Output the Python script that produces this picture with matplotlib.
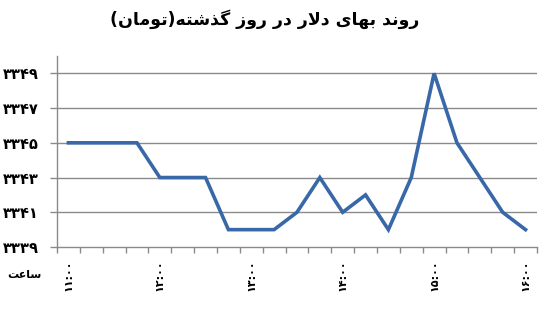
import matplotlib
matplotlib.use("Agg")
import matplotlib.pyplot as plt
from matplotlib.ticker import FixedLocator

# --- data -------------------------------------------------------------
# price every 15 minutes, 11:00 .. 16:00
prices = [3345, 3345, 3345, 3345, 3343, 3343, 3343, 3340, 3340, 3340, 3341,
          3343, 3341, 3342, 3340, 3343, 3349, 3345, 3343, 3341, 3340]
hour_labels = ['۱۱:۰۰', '۱۲:۰۰', '۱۳:۰۰', '۱۴:۰۰', '۱۵:۰۰', '۱۶:۰۰']
y_ticks = [3339, 3341, 3343, 3345, 3347, 3349]
y_labels = ['۳۳۳۹', '۳۳۴۱', '۳۳۴۳', '۳۳۴۵', '۳۳۴۷', '۳۳۴۹']
title = 'روند بهای دلار در روز گذشته(تومان)'
x_name = 'ساعت'

# --- minimal arabic/persian shaping (matplotlib has no bidi/shaping) ----
# isolated, final, initial, medial
FORMS = {
    'ا': ('\uFE8D', '\uFE8E', None, None),
    'ب': ('\uFE8F', '\uFE90', '\uFE91', '\uFE92'),
    'ت': ('\uFE95', '\uFE96', '\uFE97', '\uFE98'),
    'د': ('\uFEA9', '\uFEAA', None, None),
    'ذ': ('\uFEAB', '\uFEAC', None, None),
    'ر': ('\uFEAD', '\uFEAE', None, None),
    'ز': ('\uFEAF', '\uFEB0', None, None),
    'س': ('\uFEB1', '\uFEB2', '\uFEB3', '\uFEB4'),
    'ش': ('\uFEB5', '\uFEB6', '\uFEB7', '\uFEB8'),
    'ع': ('\uFEC9', '\uFECA', '\uFECB', '\uFECC'),
    'ل': ('\uFEDD', '\uFEDE', '\uFEDF', '\uFEE0'),
    'م': ('\uFEE1', '\uFEE2', '\uFEE3', '\uFEE4'),
    'ن': ('\uFEE5', '\uFEE6', '\uFEE7', '\uFEE8'),
    'ه': ('\uFEE9', '\uFEEA', '\uFEEB', '\uFEEC'),
    'و': ('\uFEED', '\uFEEE', None, None),
    'ی': ('\uFBFC', '\uFBFD', '\uFBFE', '\uFBFF'),
    'گ': ('\uFB92', '\uFB93', '\uFB94', '\uFB95'),
    'LA': ('\uFEFB', '\uFEFC', None, None),
}


def shape(text):
    chars = []
    i = 0
    while i < len(text):
        if text[i] == 'ل' and i + 1 < len(text) and text[i + 1] == 'ا':
            chars.append('LA')
            i += 2
        else:
            chars.append(text[i])
            i += 1
    out = []
    for i, c in enumerate(chars):
        if c not in FORMS:
            out.append(c)
            continue
        prev = chars[i - 1] if i > 0 else None
        nxt = chars[i + 1] if i + 1 < len(chars) else None
        join_prev = prev in FORMS and FORMS[prev][2] is not None
        join_next = nxt in FORMS and FORMS[c][2] is not None
        iso, fin, ini, med = FORMS[c]
        if join_prev and join_next:
            out.append(med)
        elif join_prev:
            out.append(fin)
        elif join_next:
            out.append(ini)
        else:
            out.append(iso)
    vis = ''.join(reversed(out))
    return vis.translate(str.maketrans('()', ')('))


plt.rcParams['font.family'] = ['DejaVu Sans']

fig = plt.figure(figsize=(5.5, 3.12), dpi=100)
ax = fig.add_axes([0.1036, 0.2083, 0.8727, 0.6122])

x = list(range(len(prices)))
ax.plot(x, prices, color='#3868a8', linewidth=2.6, solid_joinstyle='miter')

ax.set_xlim(-0.5, len(prices) - 0.5)
ax.set_ylim(3339, 3350)

grid_c = '#8a8a8a'
ax.set_yticks(y_ticks)
ax.set_yticklabels(y_labels, fontsize=10.5, fontweight='bold')
for yv in y_ticks[1:]:
    ax.axhline(yv, color=grid_c, linewidth=1.0, zorder=0)

ax.set_xticks(x[::4])
ax.set_xticklabels(hour_labels, rotation=90, fontsize=8, fontweight='bold',
                   va='top')
ax.xaxis.set_minor_locator(FixedLocator([v - 0.5 for v in range(len(prices) + 1)]))
ax.tick_params(axis='x', which='major', length=0, pad=9)
ax.tick_params(axis='x', which='minor', length=4, color=grid_c, width=1)
ax.tick_params(axis='y', length=5, color=grid_c, width=1, pad=8)

for s in ['top', 'right']:
    ax.spines[s].set_visible(False)
for s in ['left', 'bottom']:
    ax.spines[s].set_color(grid_c)
    ax.spines[s].set_linewidth(1.0)

fig.text(265 / 550, 1 - 19 / 312, shape(title), ha='center', va='center',
         fontsize=12.5, fontweight='bold')
fig.text(42 / 550, 1 - 275 / 312, shape(x_name), ha='right', va='center',
         fontsize=8, fontweight='bold')

fig.savefig('out.png', dpi=100)
